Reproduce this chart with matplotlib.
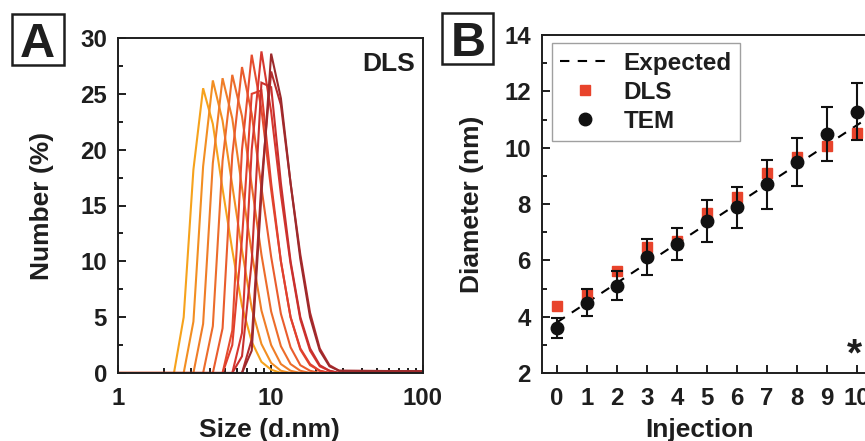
import matplotlib
matplotlib.use("Agg")
import matplotlib.pyplot as plt
from matplotlib.lines import Line2D
from matplotlib.patches import Rectangle
from matplotlib.ticker import MultipleLocator, FixedLocator, NullFormatter
import numpy as np

plt.rcParams['font.family'] = ['Liberation Sans', 'DejaVu Sans']
plt.rcParams['font.weight'] = 'bold'

# ---- Panel A: DLS number distributions (instrument size bins, nm) ----
sizes_nm = [2.010, 2.328, 2.696, 3.122, 3.615, 4.187, 4.849, 5.615, 6.503,
            7.531, 8.721, 10.10, 11.70, 13.54, 15.69, 18.17, 21.04, 24.36, 28.21]

dls_inj0 = [0, 0, 5.0, 18.2, 25.5, 22.3, 16.5, 11.0, 6.0, 2.8, 1.0, 0.3, 0, 0, 0, 0, 0, 0, 0]
dls_inj1 = [0, 0, 0, 4.6, 18.5, 26.2, 22.6, 16.8, 11.0, 5.8, 2.6, 0.9, 0.2, 0, 0, 0, 0, 0, 0]
dls_inj2 = [0, 0, 0, 0, 4.4, 18.8, 26.4, 22.8, 16.6, 10.8, 5.6, 2.5, 0.8, 0.2, 0, 0, 0, 0, 0]
dls_inj3 = [0, 0, 0, 0, 0, 4.2, 19.0, 26.7, 23.0, 16.8, 10.6, 5.5, 2.4, 0.8, 0.2, 0, 0, 0, 0]
dls_inj4 = [0, 0, 0, 0, 0, 0, 4.0, 19.5, 27.4, 23.2, 16.6, 10.4, 5.3, 2.3, 0.7, 0.2, 0, 0, 0]
dls_inj5 = [0, 0, 0, 0, 0, 0, 0, 3.8, 20.0, 28.5, 23.6, 16.4, 10.0, 5.0, 2.1, 0.7, 0.2, 0, 0]
dls_inj6 = [0, 0, 0, 0, 0, 0, 0, 2.5, 12.0, 25.0, 25.3, 17.0, 10.0, 5.0, 2.2, 0.8, 0.2, 0, 0]
dls_inj7 = [0, 0, 0, 0, 0, 0, 0, 0, 3.6, 20.0, 28.8, 23.4, 16.0, 9.8, 4.8, 2.0, 0.6, 0.2, 0]
dls_inj8 = [0, 0, 0, 0, 0, 0, 0, 0, 1.5, 10.0, 26.0, 25.6, 17.0, 10.0, 5.0, 2.2, 0.7, 0.2, 0]
dls_inj9 = [0, 0, 0, 0, 0, 0, 0, 0, 0, 3.0, 17.0, 27.0, 24.0, 17.0, 10.6, 5.4, 2.2, 0.7, 0.2]
dls_inj10 = [0, 0, 0, 0, 0, 0, 0, 0, 0, 2.0, 16.0, 28.6, 24.6, 17.0, 10.2, 5.0, 2.0, 0.6, 0.2]

dls_curves = [dls_inj0, dls_inj1, dls_inj2, dls_inj3, dls_inj4, dls_inj5,
              dls_inj6, dls_inj7, dls_inj8, dls_inj9, dls_inj10]
curve_colors = ['#F6A21C', '#F28E22', '#EF7D28', '#EC6C2B', '#E95C2D', '#E54C2E',
                '#E0402F', '#D6372F', '#C8302E', '#B42C2D', '#9C2A2C']

# ---- Panel B: diameter vs injection ----
injection = [0, 1, 2, 3, 4, 5, 6, 7, 8, 9, 10]
expected_x = [0, 1, 2, 3, 4, 5, 6, 7, 8, 9, 10, 11]
expected_nm = [3.8, 4.5, 5.2, 5.9, 6.6, 7.3, 8.0, 8.7, 9.4, 10.1, 10.8, 11.5]
dls_nm = [4.39, 4.80, 5.63, 6.48, 6.70, 7.67, 8.24, 9.09, 9.66, 10.06, 10.51]
tem_nm = [3.59, 4.50, 5.10, 6.11, 6.58, 7.40, 7.88, 8.70, 9.48, 10.48, 11.28]
tem_err = [0.35, 0.47, 0.52, 0.63, 0.58, 0.75, 0.72, 0.87, 0.85, 0.96, 1.00]

W, H = 865, 441
fig = plt.figure(figsize=(W / 100, H / 100), dpi=100)

ink = '#1e1e1e'
tick_fs = 17.3
label_fs = 19
dash = (0, (4.5, 4))


def style_axes(ax):
    for sp in ax.spines.values():
        sp.set_linewidth(1.4)
        sp.set_color(ink)
    ax.tick_params(which='both', direction='in', top=False, right=False,
                   width=1.4, color=ink, labelsize=tick_fs, labelcolor=ink)
    ax.tick_params(which='major', length=6)
    ax.tick_params(which='minor', length=3.5)
    ax.tick_params(axis='x', which='major', pad=10)
    ax.tick_params(axis='y', which='major', pad=8)
    for lab in ax.get_xticklabels() + ax.get_yticklabels():
        lab.set_fontweight('bold')


# Panel A
axA = fig.add_axes([118 / W, 1 - 373 / H, 305 / W, 335 / H])
for vals, col in zip(dls_curves, curve_colors):
    xs = [0.4] + sizes_nm + [10000]
    ys = [0] + vals + [0]
    axA.plot(xs, ys, color=col, lw=1.5, solid_joinstyle='miter')
axA.set_xscale('log')
axA.set_xlim(1, 100)
axA.set_ylim(0, 30)
axA.set_xticks([1, 10, 100])
axA.set_xticklabels(['1', '10', '100'])
axA.xaxis.set_minor_locator(FixedLocator([2, 3, 4, 5, 6, 7, 8, 9, 20, 30, 40, 50, 60, 70, 80, 90]))
axA.xaxis.set_minor_formatter(NullFormatter())
axA.yaxis.set_major_locator(MultipleLocator(5))
axA.yaxis.set_minor_locator(MultipleLocator(2.5))
style_axes(axA)
axA.set_xlabel('Size (d.nm)', fontsize=label_fs, fontweight='bold', color=ink)
axA.set_ylabel('Number (%)', fontsize=label_fs, fontweight='bold', color=ink)
axA.xaxis.set_label_coords(0.498, -0.133)
axA.yaxis.set_label_coords(-0.21, 0.5)
axA.text(0.974, 0.922, 'DLS', transform=axA.transAxes, ha='right', va='center',
         fontsize=19, fontweight='bold', color=ink)

# Panel B
axB = fig.add_axes([542 / W, 1 - 373 / H, 333 / W, 338 / H])
axB.plot(expected_x, expected_nm, color='black', lw=1.5, ls=dash, zorder=2)
axB.plot(injection, dls_nm, ls='none', marker='s', ms=6.5, color='#E8432B', zorder=3)
axB.errorbar(injection, tem_nm, yerr=tem_err, fmt='none', ecolor='#111111',
             elinewidth=1.5, capsize=4.5, capthick=1.5, zorder=4)
axB.plot(injection, tem_nm, ls='none', marker='o', ms=9, color='#111111', zorder=5)
axB.set_xlim(-0.5, 10.6)
axB.set_ylim(2, 14)
axB.set_xticks(injection)
axB.yaxis.set_major_locator(MultipleLocator(2))
axB.yaxis.set_minor_locator(MultipleLocator(1))
style_axes(axB)
axB.set_xlabel('Injection', fontsize=label_fs, fontweight='bold', color=ink)
axB.set_ylabel('Diameter (nm)', fontsize=label_fs, fontweight='bold', color=ink)
axB.xaxis.set_label_coords(0.474, -0.133)
axB.yaxis.set_label_coords(-0.175, 0.5)
axB.text(9.9, 2.62, '*', ha='center', va='center', fontsize=28, fontweight='bold', color=ink)

handles = [
    Line2D([], [], color='black', lw=1.5, ls=dash),
    Line2D([], [], ls='none', marker='s', ms=6.5, color='#E8432B'),
    Line2D([], [], ls='none', marker='o', ms=9, color='#111111'),
]
leg = axB.legend(handles, ['Expected', 'DLS', 'TEM'], loc='upper left',
                 bbox_to_anchor=(0.03, 0.976), borderaxespad=0,
                 prop={'size': 17.5, 'weight': 'bold'}, fancybox=False,
                 frameon=True, edgecolor='#888888', handlelength=2.0,
                 labelspacing=0.25, borderpad=0.35, handletextpad=0.6)
leg.get_frame().set_linewidth(1.0)
for t in leg.get_texts():
    t.set_color(ink)

# Panel letters in square boxes
for (x0, y0, w, h, cx, base, letter) in [(12, 14, 52, 51, 37.5, 57, 'A'),
                                         (442, 13, 51, 51, 468.5, 56, 'B')]:
    fig.add_artist(Rectangle((x0 / W, 1 - (y0 + h) / H), w / W, h / H,
                             transform=fig.transFigure, fill=False,
                             lw=1.8, edgecolor=ink))
    fig.text(cx / W, 1 - base / H, letter, ha='center', va='baseline',
             fontsize=35, fontweight='bold', color=ink)

fig.savefig('out.png', dpi=100)
